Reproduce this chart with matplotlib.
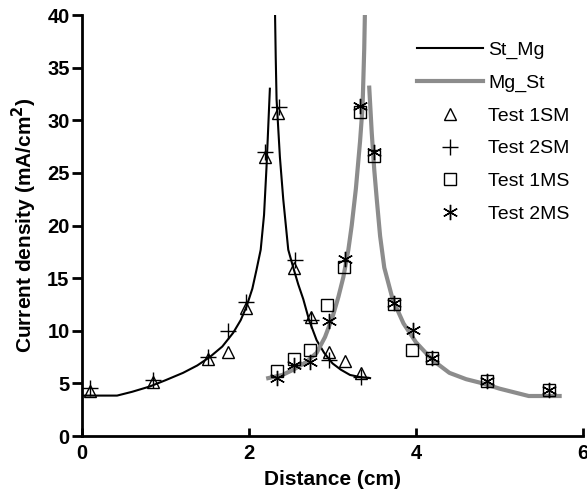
import matplotlib
matplotlib.use("Agg")
import matplotlib.pyplot as plt
import numpy as np

plt.rcParams['font.family'] = ['Liberation Sans', 'DejaVu Sans']

st_mg_left_x = [0.0, 0.42, 0.6, 0.81, 1.0, 1.21, 1.38, 1.53, 1.68, 1.81, 1.90, 1.97, 2.04, 2.09, 2.14, 2.18, 2.21, 2.25]
st_mg_left_y = [3.84, 3.84, 4.2, 4.7, 5.3, 6.0, 6.7, 7.5, 8.5, 9.8, 11.0, 12.3, 14.0, 15.8, 17.7, 21.0, 25.6, 33.0]
st_mg_right_x = [2.31, 2.32, 2.33, 2.37, 2.41, 2.47, 2.53, 2.59, 2.65, 2.72, 2.81, 2.90, 3.0, 3.1, 3.21, 3.33, 3.45]
st_mg_right_y = [41.0, 36.0, 32.0, 26.5, 22.5, 17.7, 16.0, 14.4, 13.0, 11.0, 9.1, 7.9, 6.9, 6.3, 5.8, 5.6, 5.5]

mg_st_left_x = [2.23, 2.4, 2.53, 2.68, 2.81, 2.91, 3.0, 3.07, 3.13, 3.19, 3.23, 3.28, 3.33, 3.36, 3.38, 3.39]
mg_st_left_y = [5.5, 5.8, 6.3, 7.0, 7.9, 9.4, 11.3, 13.2, 15.1, 17.7, 20.0, 23.5, 28.0, 31.3, 36.8, 41.0]
mg_st_right_x = [3.44, 3.47, 3.50, 3.53, 3.57, 3.62, 3.72, 3.85, 4.0, 4.2, 4.4, 4.6, 4.8, 5.0, 5.2, 5.35, 5.72]
mg_st_right_y = [33.1, 28.8, 25.3, 22.5, 19.0, 16.0, 13.0, 10.7, 8.9, 7.2, 6.0, 5.4, 5.0, 4.5, 4.1, 3.8, 3.8]

# Measurements
t1sm_x = [0.10, 0.85, 1.51, 1.75, 1.96, 2.19, 2.35, 2.54, 2.74, 2.96, 3.15, 3.34]
t1sm_y = [4.3, 5.1, 7.3, 8.0, 12.2, 26.5, 30.7, 16.0, 11.3, 8.0, 7.1, 6.0]
t2sm_x = [0.10, 0.85, 1.51, 1.75, 1.96, 2.19, 2.36, 2.55, 2.74, 2.96, 3.34]
t2sm_y = [4.6, 5.3, 7.5, 10.0, 12.7, 27.0, 31.3, 16.7, 11.0, 7.2, 5.6]
t1ms_x = [2.33, 2.54, 2.73, 2.94, 3.14, 3.33, 3.50, 3.74, 3.95, 4.19, 4.85, 5.59]
t1ms_y = [6.2, 7.3, 8.2, 12.4, 16.1, 30.8, 26.6, 12.5, 8.2, 7.4, 5.2, 4.4]
t2ms_x = [2.33, 2.54, 2.73, 2.96, 3.15, 3.33, 3.50, 3.74, 3.96, 4.19, 4.85, 5.59]
t2ms_y = [5.5, 6.7, 7.0, 10.9, 16.8, 31.4, 27.0, 12.6, 10.1, 7.4, 5.2, 4.4]

fig = plt.figure(figsize=(5.87, 4.94), dpi=100)
ax = fig.add_axes([0.1397, 0.1174, 0.8535, 0.8522])

ax.plot(st_mg_left_x, st_mg_left_y, color='black', lw=1.5, label='St_Mg')
ax.plot(st_mg_right_x, st_mg_right_y, color='black', lw=1.5)
ax.plot(mg_st_left_x, mg_st_left_y, color='#8c8c8c', lw=3.0, label='Mg_St')
ax.plot(mg_st_right_x, mg_st_right_y, color='#8c8c8c', lw=3.0)

ms = 9
ax.plot(t1sm_x, t1sm_y, ls='none', marker='^', ms=ms, mfc='none', mec='black', mew=1.0, label='Test 1SM')
ax.plot(t2sm_x, t2sm_y, ls='none', marker='+', ms=ms + 2, mec='black', mew=1.0, label='Test 2SM')
ax.plot(t1ms_x, t1ms_y, ls='none', marker='s', ms=ms - 1, mfc='none', mec='black', mew=1.0, label='Test 1MS')
ax.plot(t2ms_x, t2ms_y, ls='none', marker=(6, 2, 0), ms=ms + 2, mec='black', mew=1.0, label='Test 2MS')

ax.set_xlim(0, 6)
ax.set_ylim(0, 40)
ax.set_xticks([0, 2, 4, 6])
ax.set_yticks(range(0, 41, 5))
for s in ['top', 'right']:
    ax.spines[s].set_visible(False)
for s in ['left', 'bottom']:
    ax.spines[s].set_linewidth(2.0)
ax.tick_params(axis='y', direction='out', length=7, width=2, labelsize=14.5, pad=2)
ax.tick_params(axis='x', direction='in', length=6, width=2, labelsize=14.5, pad=6)
for lab in ax.get_xticklabels() + ax.get_yticklabels():
    lab.set_fontweight('bold')

ax.set_xlabel('Distance (cm)', fontsize=15, fontweight='bold', labelpad=5)
ax.set_ylabel('Current density (mA/cm$^\\mathbf{2}$)', fontsize=15, fontweight='bold', labelpad=6)

leg = ax.legend(loc='upper left', bbox_to_anchor=(417 / 587, 1 - 41 / 494),
                bbox_transform=fig.transFigure, frameon=False, fontsize=14,
                handlelength=3.4, handletextpad=0.25, labelspacing=0.78,
                borderpad=0, borderaxespad=0)

fig.savefig('out.png', dpi=100)
